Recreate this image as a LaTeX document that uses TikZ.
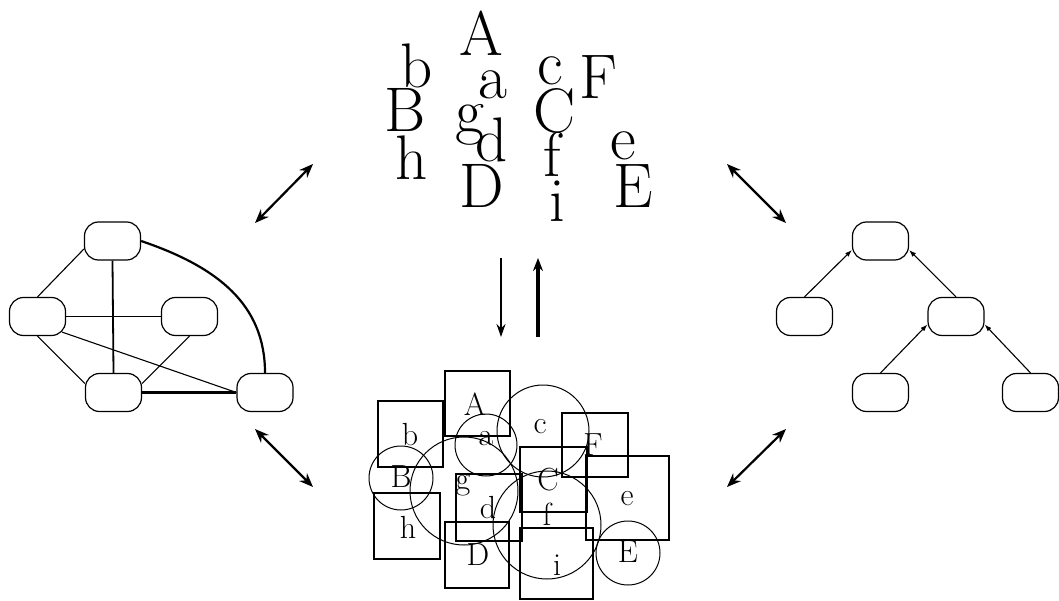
\documentclass[tikz,border=0pt]{standalone}
\usepackage{fontspec}
\usetikzlibrary{arrows.meta}

\tikzset{
  big/.style={font=\fontsize{63}{63}\selectfont, inner sep=0pt, anchor=base},
  small/.style={font=\fontsize{32}{32}\selectfont, inner sep=0pt, anchor=base},
  sqbox/.style={draw, line width=2.4pt, inner sep=0pt},
  ring/.style={draw, circle, line width=1pt, inner sep=0pt},
  rbox/.style={draw, rounded corners=14pt, line width=1.2pt,
    minimum width=56pt, minimum height=38pt, inner sep=0pt},
  dbl/.style={line width=2.2pt, {Stealth[length=14pt,width=11pt]}-{Stealth[length=14pt,width=11pt]}},
  tarrow/.style={line width=1.1pt, -{Latex[length=7pt,width=5pt]}}
}

\begin{document}
\begin{tikzpicture}[x=1pt, y=-1pt]
\useasboundingbox (0,0) rectangle (1059,601);

% ---- scattered labels (top) ----
\node[big] (tA) at (481,56)  {A};
\node[big] (tb) at (417,88)  {b};
\node[big] (ta) at (493,99)  {a};
\node[big] (tc) at (550,85)  {c};
\node[big] (tF) at (598,99)  {F};
\node[big] (tB) at (405,132) {B};
\node[big] (tg) at (470,133) {g};
\node[big] (tC) at (555,133) {C};
\node[big] (td) at (492,162) {d};
\node[big] (th) at (412,180) {h};
\node[big] (tf) at (552,177) {f};
\node[big] (te) at (623,160) {e};
\node[big] (tD) at (482,208) {D};
\node[big] (ti) at (557,222) {i};
\node[big] (tE) at (633,208) {E};

% ---- overlapping regions (bottom) ----
\node[sqbox, minimum width=65pt, minimum height=65pt] (bA) at (477.5,403.5) {};
\node[sqbox, minimum width=65pt, minimum height=66pt] (bb) at (410.5,434) {};
\node[sqbox, line width=2pt, minimum width=66pt, minimum height=66pt] (bh) at (407,526) {};
\node[sqbox, minimum width=66pt, minimum height=64pt] (bF) at (595,445) {};
\node[sqbox, minimum width=67pt, minimum height=65pt] (bC) at (553.5,479.5) {};
\node[sqbox, minimum width=66pt, minimum height=67pt] (bd) at (489,507.5) {};
\node[sqbox, minimum width=83pt, minimum height=84pt] (be) at (627.5,498) {};
\node[sqbox, minimum width=64pt, minimum height=66pt] (bD) at (477,555) {};
\node[sqbox, minimum width=73pt, minimum height=71pt] (bi) at (556.5,563.5) {};
\node[ring, minimum size=64pt]  (cB) at (401,478) {};
\node[ring, minimum size=108pt] (cg) at (464,491) {};
\node[ring, minimum size=62pt]  (ca) at (486,445) {};
\node[ring, minimum size=92pt]  (cc) at (543,431) {};
\node[ring, minimum size=108pt] (cf) at (547,525) {};
\node[ring, minimum size=64pt]  (cE) at (628,553) {};

\node[small] (lA) at (475,415) {A};
\node[small] (lb) at (410,445) {b};
\node[small] (la) at (486,445) {a};
\node[small] (lc) at (540,433) {c};
\node[small] (lF) at (593,455) {F};
\node[small] (lB) at (401,487) {B};
\node[small] (lg) at (463,489) {g};
\node[small] (lC) at (548,490) {C};
\node[small] (ld) at (488,518) {d};
\node[small] (lh) at (408,538) {h};
\node[small] (lf) at (547,525) {f};
\node[small] (le) at (627,505) {e};
\node[small] (lD) at (478,565) {D};
\node[small] (li) at (557,575) {i};
\node[small] (lE) at (628,562) {E};

% ---- graph (left) ----
\node[rbox] (g1) at (112.5,241) {};
\node[rbox] (g2) at (37.5,316.5) {};
\node[rbox] (g3) at (189.5,316.5) {};
\node[rbox] (g4) at (113.5,392.5) {};
\node[rbox] (g5) at (265,392.5) {};
\draw[line width=1.1pt] ([yshift=-8pt]g1.west) -- (g2.north);
\draw[line width=1.8pt] (g1.south) -- (g4.north);
\draw[line width=1.8pt] (g2.east) -- (g3.west);
\draw[line width=1.1pt] (g2.south) -- ([yshift=9pt]g4.west);
\draw[line width=1.1pt] (g3.south) -- ([yshift=9pt]g4.east);
\draw[line width=1.1pt] ([shift={(-4pt,4pt)}]g2.south east) -- (g5.west);
\draw[line width=2.8pt] (g4.east) -- (g5.west);
\draw[line width=2.2pt] (g1.east) .. controls +(77,26) and +(0,-68) .. (g5.north);

% ---- tree (right) ----
\node[rbox] (r1) at (880.5,241) {};
\node[rbox] (r2) at (804.5,316.5) {};
\node[rbox] (r3) at (956,316.5) {};
\node[rbox] (r4) at (880.5,392.5) {};
\node[rbox] (r5) at (1030.5,392.5) {};
\draw[tarrow] (r2.north) -- ([yshift=-9pt]r1.west);
\draw[tarrow] (r3.north) -- ([yshift=-9pt]r1.east);
\draw[tarrow] (r4.north) -- ([yshift=-8pt]r3.west);
\draw[tarrow] (r5.north) -- ([yshift=-8pt]r3.east);

% ---- transitions between the views ----
\coordinate (ul1) at (255,223);
\coordinate (ul2) at (313,164);
\coordinate (ur1) at (727,164);
\coordinate (ur2) at (786,223);
\coordinate (ll1) at (255,429);
\coordinate (ll2) at (313,487);
\coordinate (lr1) at (727,487);
\coordinate (lr2) at (786,429);
\draw[dbl] (ul1) -- (ul2);
\draw[dbl] (ur1) -- (ur2);
\draw[dbl] (ll1) -- (ll2);
\draw[dbl] (lr1) -- (lr2);

\coordinate (dn1) at (501,258);
\coordinate (dn2) at (501,337);
\coordinate (up1) at (538,337);
\coordinate (up2) at (538,258);
\draw[line width=2.2pt, -{Stealth[length=13pt,width=9pt]}] (dn1) -- (dn2);
\draw[line width=3.2pt, -{Stealth[length=13pt,width=10pt]}] (up1) -- (up2);
\end{tikzpicture}
\end{document}
